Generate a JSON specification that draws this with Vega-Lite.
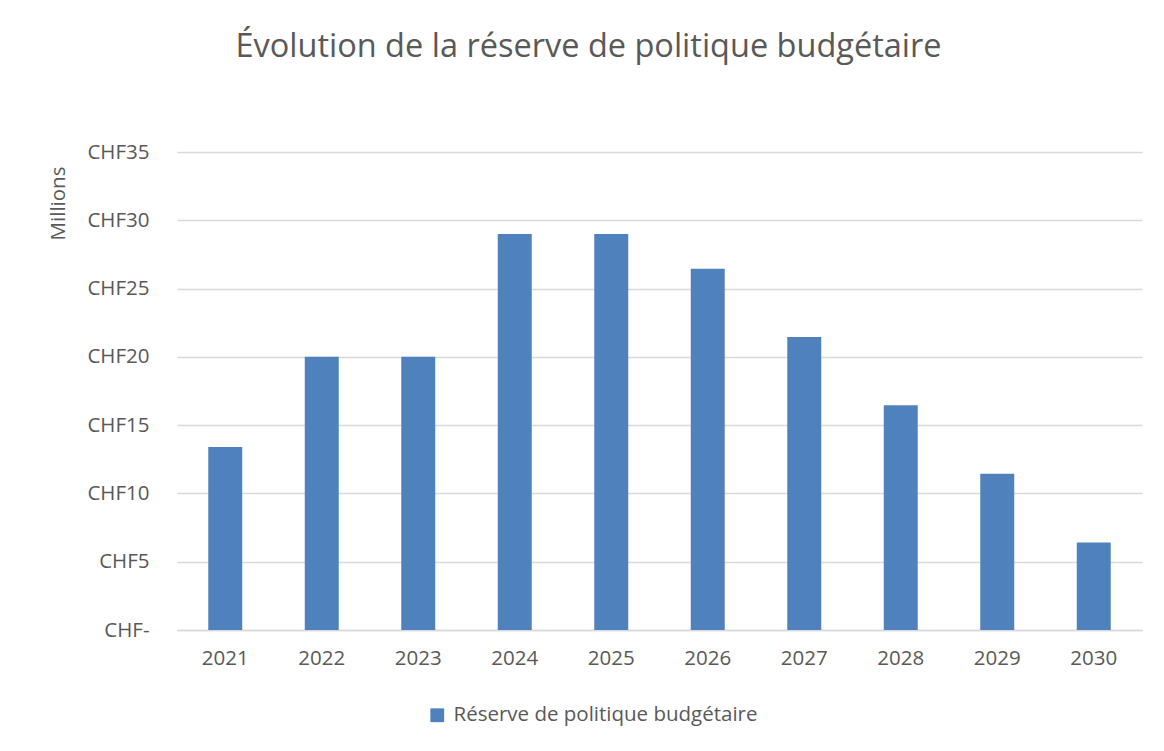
{
  "$schema": "https://vega.github.io/schema/vega-lite/v6.json",
  "width": 965,
  "height": 478,
  "autosize": {"type": "none"},
  "padding": {"left": 177, "top": 152, "right": 22, "bottom": 121},
  "background": "white",
  "title": {
    "text": "Évolution de la réserve de politique budgétaire",
    "anchor": "middle",
    "frame": "group",
    "font": "Open Sans",
    "fontSize": 32.5,
    "fontWeight": "normal",
    "color": "#595959",
    "offset": 79,
    "dx": -71
  },
  "data": {
    "values": [
      {"annee": "2021", "valeur": 13.4, "serie": "Réserve de politique budgétaire"},
      {"annee": "2022", "valeur": 20.0, "serie": "Réserve de politique budgétaire"},
      {"annee": "2023", "valeur": 20.0, "serie": "Réserve de politique budgétaire"},
      {"annee": "2024", "valeur": 29.0, "serie": "Réserve de politique budgétaire"},
      {"annee": "2025", "valeur": 29.0, "serie": "Réserve de politique budgétaire"},
      {"annee": "2026", "valeur": 26.45, "serie": "Réserve de politique budgétaire"},
      {"annee": "2027", "valeur": 21.45, "serie": "Réserve de politique budgétaire"},
      {"annee": "2028", "valeur": 16.45, "serie": "Réserve de politique budgétaire"},
      {"annee": "2029", "valeur": 11.45, "serie": "Réserve de politique budgétaire"},
      {"annee": "2030", "valeur": 6.4, "serie": "Réserve de politique budgétaire"}
    ]
  },
  "mark": {"type": "bar"},
  "encoding": {
    "x": {
      "field": "annee",
      "type": "ordinal",
      "scale": {"paddingInner": 0.648, "paddingOuter": 0.324},
      "axis": {
        "title": null,
        "labelAngle": 0,
        "labelFont": "Open Sans",
        "labelFontSize": 20.5,
        "labelColor": "#595959",
        "labelPadding": 18,
        "ticks": false,
        "domain": true,
        "domainColor": "#D9D9D9",
        "domainWidth": 1.5,
        "grid": false
      }
    },
    "y": {
      "field": "valeur",
      "type": "quantitative",
      "scale": {"domain": [0, 35], "nice": false},
      "axis": {
        "values": [0, 5, 10, 15, 20, 25, 30, 35],
        "labelExpr": "datum.value == 0 ? 'CHF-' : 'CHF' + datum.value",
        "labelFont": "Open Sans",
        "labelFontSize": 20.5,
        "labelColor": "#595959",
        "labelPadding": 28,
        "ticks": false,
        "domain": false,
        "grid": true,
        "gridColor": "#D9D9D9",
        "gridWidth": 1.5,
        "title": "Millions",
        "titleFont": "Open Sans",
        "titleFontSize": 20.5,
        "titleFontWeight": "normal",
        "titleColor": "#595959",
        "titleAngle": -90,
        "titleAlign": "center",
        "titleBaseline": "middle",
        "titleX": -119,
        "titleY": 51
      }
    },
    "color": {
      "field": "serie",
      "type": "nominal",
      "scale": {"range": ["#4F81BD"]},
      "legend": {
        "title": null,
        "orient": "none",
        "legendX": 250,
        "legendY": 553,
        "symbolType": "square",
        "symbolSize": 190,
        "labelFont": "Open Sans",
        "labelFontSize": 20.5,
        "labelColor": "#595959",
        "labelOffset": 6,
        "labelLimit": 0
      }
    }
  },
  "config": {
    "view": {"stroke": null}
  }
}
